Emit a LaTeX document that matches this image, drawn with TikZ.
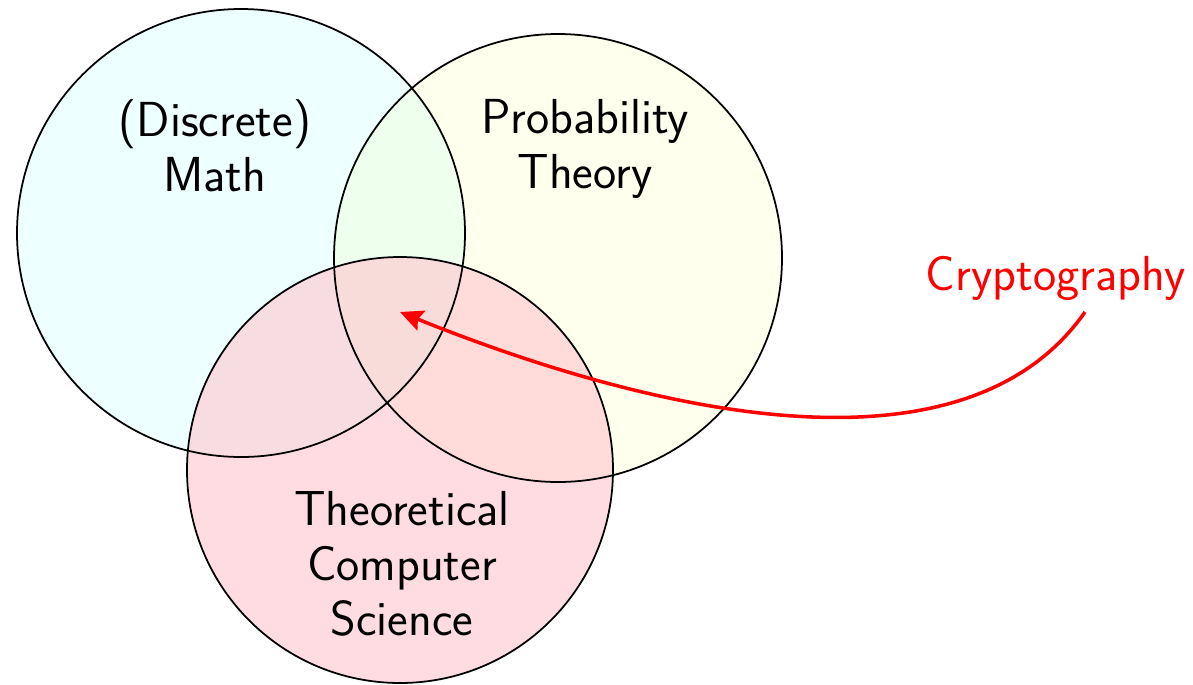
\documentclass[tikz,border=0pt]{standalone}
\usepackage{fontspec}
\usepackage{tikz}
\usetikzlibrary{arrows.meta}
\definecolor{setcyan}{RGB}{0,255,255}
\definecolor{setyellow}{RGB}{255,255,0}
\definecolor{setpink}{RGB}{255,192,203}

\begin{document}
\begin{tikzpicture}[x=0.02cm, y=-0.02cm, font=\sffamily\fontsize{28}{31.3}\selectfont]
\tikzstyle{setline} = [draw=black, line width=1pt]
\tikzstyle{setname} = [align=center, inner sep=0pt]
\tikzstyle{arrow} = [red, line width=2pt, -{Stealth[length=13pt, width=12pt, inset=2pt]}]

\useasboundingbox (0,0) rectangle (1193,684);

\fill [setcyan, fill opacity=0.07] (241,233) circle (224);
\fill [setyellow, fill opacity=0.07] (558,258) circle (224);
\fill [setpink, fill opacity=0.55] (400,470) circle (213);
\draw [setline] (241,233) circle (224);
\draw [setline] (558,258) circle (224);
\draw [setline] (400,470) circle (213);

\node (Math) [setname] at (215,146) {(Discrete)\\Math};
\node (Prob) [setname] at (585,149) {Probability\\Theory};
\node (TCS) [setname] at (402,564) {Theoretical\\Computer\\Science};
\node (Crypto) [setname, text=red] at (1056,278) {Cryptography};

\coordinate (Tail) at (1085,312);
\coordinate (Tip) at (400,312);
\draw [arrow] (Tail) to [out=-125, in=-22, looseness=0.85] (Tip);
\end{tikzpicture}
\end{document}
